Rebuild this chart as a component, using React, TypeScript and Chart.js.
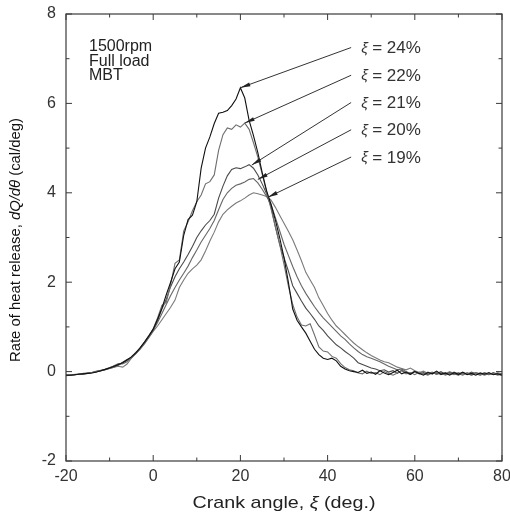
import React, { useEffect, useRef } from 'react';
import { Chart, registerables } from 'chart.js';

Chart.register(...registerables);

// crank angle grid: -20 .. 80 deg, 1 deg step
const crankAngles: number[] = Array.from({ length: 101 }, (_, i) => -20 + i);

// rate of heat release (cal/deg) for each ξ
const rhr24 = [
  -0.08, -0.08, -0.07, -0.06, -0.05, -0.04, -0.03, -0.01, 0.02, 0.05, 0.08, 0.12, 0.16, 0.2, 0.26, 0.33, 0.42, 0.53, 0.66, 0.8,
  0.95, 1.17, 1.42, 1.72, 2.0, 2.3, 2.45, 3.05, 3.4, 3.5, 3.8, 4.55, 5.0, 5.25, 5.55, 5.78, 5.8, 5.84, 5.95, 6.1, 6.35, 6.12, 5.62, 5.28, 4.9, 4.45, 4.05, 3.75, 3.4, 3.0, 2.55, 2.0, 1.4, 1.15, 1.0, 0.86, 0.68, 0.5, 0.38, 0.3, 0.27, 0.3, 0.24, 0.12, 0.06, 0.02,
  0.0, -0.02, 0.03, -0.04, -0.01, -0.06, 0.02, -0.03, -0.07, -0.02, 0.03, -0.05, -0.01, -0.06, 0.0, -0.04, -0.08, -0.02, -0.05, 0.01, -0.06, -0.03, -0.08, -0.02, -0.06, -0.01, -0.07, -0.04, -0.08, -0.03, -0.06, -0.02, -0.07, -0.05, -0.08,
];
const rhr22 = [
  -0.07, -0.08, -0.07, -0.06, -0.05, -0.03, -0.02, 0.0, 0.02, 0.04, 0.08, 0.13, 0.18, 0.17, 0.22, 0.32, 0.4, 0.5, 0.64, 0.78,
  0.96, 1.2, 1.48, 1.55, 1.95, 2.42, 2.5, 3.15, 3.35, 3.6, 3.8, 3.95, 4.2, 4.25, 4.4, 4.95, 5.3, 5.45, 5.42, 5.52, 5.47, 5.56, 5.42, 5.12, 4.8, 4.42, 4.02, 3.65, 3.25, 2.85, 2.4, 1.92, 1.5, 1.22, 1.04, 1.02, 1.07, 0.82, 0.55, 0.46, 0.44, 0.34, 0.3, 0.18, 0.09, 0.04,
  0.02, -0.03, -0.05, 0.01, -0.04, -0.02, -0.07, 0.0, -0.04, -0.08, -0.03, 0.02, -0.05, -0.02, -0.07, -0.01, -0.05, -0.08, -0.02, -0.06, -0.03, -0.08, -0.04, -0.07, -0.02, -0.06, -0.03, -0.08, -0.04, -0.07, -0.03, -0.06, -0.04, -0.08, -0.06,
];
const rhr21 = [
  -0.09, -0.08, -0.07, -0.06, -0.04, -0.04, -0.02, 0.0, 0.03, 0.05, 0.09, 0.12, 0.15, 0.21, 0.27, 0.31, 0.41, 0.53, 0.66, 0.8,
  0.94, 1.14, 1.4, 1.62, 1.9, 2.12, 2.3, 2.45, 2.62, 2.8, 3.0, 3.15, 3.28, 3.38, 3.52, 3.88, 4.15, 4.38, 4.52, 4.56, 4.54, 4.58, 4.63, 4.55, 4.4, 4.2, 3.98, 3.7, 3.25, 2.85, 2.55, 2.25, 1.92, 1.75, 1.58, 1.42, 1.3, 1.17, 1.02, 0.92, 0.8, 0.7, 0.6, 0.53, 0.45, 0.38,
  0.3, 0.2, 0.16, 0.12, 0.08, 0.06, 0.02, 0.04, -0.01, 0.02, -0.04, 0.03, -0.03, -0.06, 0.0, -0.05, -0.02, -0.07, -0.03, -0.05, 0.0, -0.06, -0.02, -0.05, -0.08, -0.03, -0.06, -0.01, -0.05, -0.08, -0.04, -0.07, -0.02, -0.06, -0.07,
];
const rhr20 = [
  -0.08, -0.07, -0.07, -0.05, -0.05, -0.04, -0.02, 0.01, 0.02, 0.05, 0.07, 0.1, 0.14, 0.19, 0.25, 0.33, 0.43, 0.52, 0.63, 0.77,
  0.92, 1.1, 1.3, 1.5, 1.7, 1.88, 2.05, 2.2, 2.36, 2.55, 2.72, 2.9, 3.05, 3.2, 3.38, 3.62, 3.85, 4.0, 4.1, 4.17, 4.2, 4.24, 4.3, 4.32, 4.22, 4.08, 3.92, 3.75, 3.45, 3.15, 2.85, 2.6, 2.35, 2.12, 1.92, 1.75, 1.6, 1.45, 1.32, 1.2, 1.1, 1.0, 0.9, 0.8, 0.72, 0.62,
  0.53, 0.45, 0.38, 0.33, 0.3, 0.26, 0.22, 0.17, 0.12, 0.08, 0.04, 0.06, 0.0, -0.04, 0.01, -0.03, -0.06, -0.01, -0.05, -0.02, -0.07, -0.03, -0.06, -0.01, -0.05, -0.08, -0.03, -0.06, -0.02, -0.05, -0.08, -0.04, -0.06, -0.03, -0.05,
];
const rhr19 = [
  -0.08, -0.08, -0.06, -0.06, -0.05, -0.03, -0.02, 0.0, 0.02, 0.04, 0.07, 0.1, 0.12, 0.1, 0.17, 0.3, 0.4, 0.5, 0.62, 0.76,
  0.9, 1.02, 1.16, 1.3, 1.44, 1.6, 1.88, 2.05, 2.2, 2.3, 2.38, 2.5, 2.7, 2.92, 3.12, 3.35, 3.52, 3.62, 3.7, 3.77, 3.82, 3.88, 3.95, 4.0, 3.98, 3.95, 3.92, 3.84, 3.68, 3.5, 3.32, 3.14, 2.95, 2.72, 2.48, 2.22, 2.05, 1.88, 1.65, 1.48, 1.3, 1.15, 1.02, 0.93, 0.83, 0.73,
  0.64, 0.56, 0.49, 0.42, 0.36, 0.31, 0.26, 0.22, 0.2, 0.15, 0.1, 0.07, 0.04, 0.08, 0.02, -0.02, 0.01, -0.04, -0.01, -0.06, -0.02, -0.05, 0.0, -0.04, -0.07, -0.02, -0.05, -0.08, -0.03, -0.06, -0.02, -0.07, -0.04, -0.06, -0.08,
];

const seriesNames = ['24%', '22%', '21%', '20%', '19%'];
const seriesValues = [rhr24, rhr22, rhr21, rhr20, rhr19];
const seriesColors = ['#111111', '#6e6e6e', '#4a4a4a', '#666666', '#7a7a7a'];

// annotation label anchors and leader targets (data coordinates)
const labelAnchorX = 45.4;
const labelAnchorY = [7.25, 6.63, 6.02, 5.41, 4.8];
const leaderTargetX = [20, 21, 22.6, 24, 26.3];
const leaderTargetY = [6.35, 5.56, 4.62, 4.3, 3.9];

const noteLines = ['1500rpm', 'Full load', 'MBT'];

const xMin = -20, xMax = 80, xMajor = 20, xMinor = 10;
const yMin = -2, yMax = 8, yMajor = 2, yMinor = 1;

const FONT = 'Arial, "Liberation Sans", sans-serif';

function drawMixed(ctx: CanvasRenderingContext2D, parts: [string, boolean][], size: number, x: number, y: number) {
  let cx = x;
  for (const [t, it] of parts) {
    ctx.font = `${it ? 'italic ' : ''}${size}px ${FONT}`;
    ctx.fillText(t, cx, y);
    cx += ctx.measureText(t).width;
  }
}
function measureMixed(ctx: CanvasRenderingContext2D, parts: [string, boolean][], size: number) {
  let w = 0;
  for (const [t, it] of parts) {
    ctx.font = `${it ? 'italic ' : ''}${size}px ${FONT}`;
    w += ctx.measureText(t).width;
  }
  return w;
}

const decorPlugin = {
  id: 'decor',
  afterDatasetsDraw(chart: any) {
    const { ctx, chartArea: a, scales } = chart;
    const xs = scales.x, ys = scales.y;
    ctx.save();
    // frame
    ctx.strokeStyle = '#3a3a3a';
    ctx.lineWidth = 1.2;
    ctx.strokeRect(a.left, a.top, a.right - a.left, a.bottom - a.top);
    // inward ticks
    ctx.lineWidth = 1;
    ctx.beginPath();
    for (let v = xMin; v <= xMax; v += xMinor) {
      const p = xs.getPixelForValue(v);
      const len = (v - xMin) % xMajor === 0 ? 6 : 3.5;
      ctx.moveTo(p, a.bottom); ctx.lineTo(p, a.bottom - len);
      ctx.moveTo(p, a.top); ctx.lineTo(p, a.top + len);
    }
    for (let v = yMin; v <= yMax; v += yMinor) {
      const p = ys.getPixelForValue(v);
      const len = (v - yMin) % yMajor === 0 ? 6 : 3.5;
      ctx.moveTo(a.left, p); ctx.lineTo(a.left + len, p);
      ctx.moveTo(a.right, p); ctx.lineTo(a.right - len, p);
    }
    ctx.stroke();

    // leader lines + arrowheads + labels
    for (let i = 0; i < seriesNames.length; i++) {
      const sx = xs.getPixelForValue(labelAnchorX);
      const sy = ys.getPixelForValue(labelAnchorY[i]);
      const tx = xs.getPixelForValue(leaderTargetX[i]);
      const ty = ys.getPixelForValue(leaderTargetY[i]);
      ctx.strokeStyle = '#333';
      ctx.lineWidth = 1;
      ctx.beginPath();
      ctx.moveTo(sx, sy); ctx.lineTo(tx, ty);
      ctx.stroke();
      const dx = tx - sx, dy = ty - sy;
      const L = Math.hypot(dx, dy);
      const ux = dx / L, uy = dy / L;
      const nx = -uy, ny = ux;
      const bx = tx - ux * 10, by = ty - uy * 10;
      ctx.fillStyle = '#222';
      ctx.beginPath();
      ctx.moveTo(tx, ty);
      ctx.lineTo(bx + nx * 2, by + ny * 2);
      ctx.lineTo(bx - nx * 2, by - ny * 2);
      ctx.closePath();
      ctx.fill();
      // label
      ctx.fillStyle = '#333';
      ctx.textBaseline = 'middle';
      ctx.textAlign = 'left';
      ctx.font = `italic 15px ${FONT}`;
      ctx.fillText('ξ', sx + 10, sy + 1);
      ctx.font = `17px ${FONT}`;
      ctx.fillText('= ' + seriesNames[i], sx + 21, sy + 1);
    }

    // condition notes
    ctx.fillStyle = '#222';
    ctx.textBaseline = 'alphabetic';
    ctx.font = `16px ${FONT}`;
    noteLines.forEach((t, i) => ctx.fillText(t, a.left + 23, a.top + 37 + i * 14.7));

    // x axis title (slightly stretched like the original)
    ctx.fillStyle = '#222';
    const xParts: [string, boolean][] = [['Crank angle, ', false], ['ξ', true], [' (deg.)', false]];
    const xw = measureMixed(ctx, xParts, 17);
    ctx.save();
    ctx.translate((a.left + a.right) / 2, 508);
    ctx.scale(183 / xw, 1);
    drawMixed(ctx, xParts, 17, -xw / 2, 0);
    ctx.restore();

    // y axis title (condensed)
    const yParts: [string, boolean][] = [['Rate of heat release, ', false], ['dQ/dθ', true], [' (cal/deg)', false]];
    const yw = measureMixed(ctx, yParts, 14);
    ctx.save();
    ctx.translate(20, 240);
    ctx.rotate(-Math.PI / 2);
    ctx.scale(244 / yw, 1);
    ctx.fillStyle = '#111';
    drawMixed(ctx, yParts, 14, -yw / 2, 0);
    ctx.restore();

    ctx.restore();
  },
};

export default function App() {
  const ref = useRef<HTMLCanvasElement>(null);
  useEffect(() => {
    document.body.style.margin = '0';
    const canvas = ref.current!;
    const datasets = seriesValues.map((vals, i) => ({
      label: seriesNames[i],
      data: vals.map((v, k) => ({ x: crankAngles[k], y: v })),
      borderColor: seriesColors[i],
      borderWidth: 1.1,
      pointRadius: 0,
      tension: 0,
      fill: false,
    }));
    const chart = new Chart(canvas, {
      type: 'line',
      data: { datasets },
      options: {
        animation: false,
        responsive: false,
        devicePixelRatio: 1,
        layout: { padding: { top: 14, right: 8, left: 0, bottom: 0 } },
        plugins: { legend: { display: false }, tooltip: { enabled: false } },
        scales: {
          x: {
            type: 'linear',
            min: xMin,
            max: xMax,
            ticks: { stepSize: xMajor, color: '#333', font: { family: FONT, size: 16 }, padding: 6, maxRotation: 0 },
            grid: { display: false, drawTicks: false },
            border: { display: false },
            afterFit: (s: any) => { s.height = 54; s.paddingLeft = 0; s.paddingRight = 0; },
          },
          y: {
            type: 'linear',
            min: yMin,
            max: yMax,
            ticks: { stepSize: yMajor, color: '#333', font: { family: FONT, size: 16 }, padding: 10 },
            grid: { display: false, drawTicks: false },
            border: { display: false },
            afterFit: (s: any) => { s.width = 66; s.paddingTop = 0; s.paddingBottom = 0; },
          },
        },
      },
      plugins: [decorPlugin],
    });
    return () => chart.destroy();
  }, []);
  return (
    <div style={{ width: 510, height: 515 }}>
      <canvas ref={ref} width={510} height={515} style={{ display: 'block' }} />
    </div>
  );
}
